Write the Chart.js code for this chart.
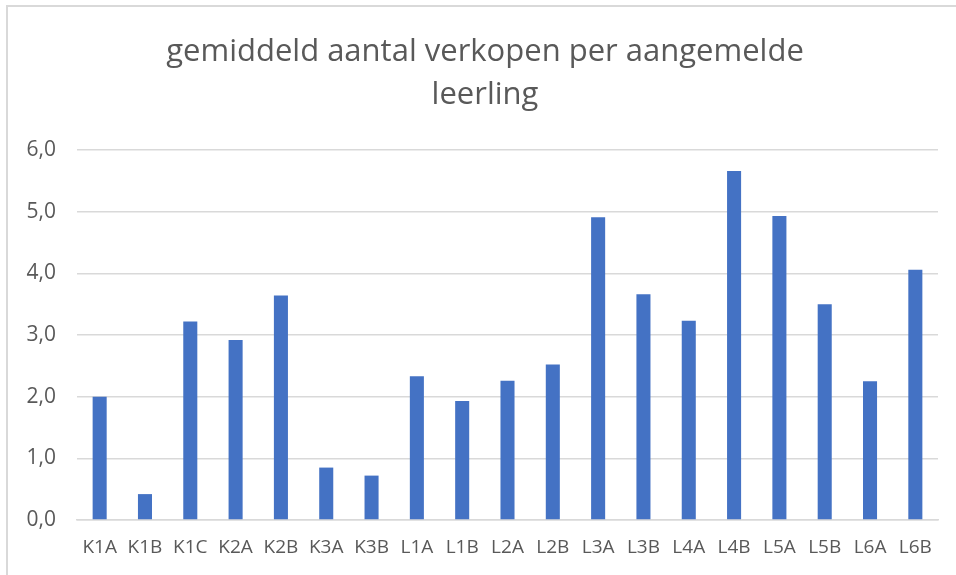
<!DOCTYPE html>
<html>
<head>
<meta charset="utf-8">
<script src="https://cdn.jsdelivr.net/npm/chart.js@4.4.0/dist/chart.umd.min.js"></script>
<style>
    html, body { margin: 0; padding: 0; background: #fff; }
    #wrap { position: relative; width: 956px; height: 575px; overflow: hidden; }
    #frame {
        position: absolute; left: 6px; top: 5px; right: -10px; bottom: -10px;
        border-left: 2px solid #d9d9d9; border-top: 2px solid #d9d9d9;
        pointer-events: none;
    }
    canvas { position: absolute; left: 0; top: 0; }
</style>
</head>
<body>
<div id="wrap">
    <canvas id="chart" width="956" height="575"></canvas>
    <div id="frame"></div>
</div>
<script>
// Data
const titleLines = ['gemiddeld aantal verkopen per aangemelde', 'leerling'];
const classes = ['K1A', 'K1B', 'K1C', 'K2A', 'K2B', 'K3A', 'K3B', 'L1A', 'L1B', 'L2A',
                 'L2B', 'L3A', 'L3B', 'L4A', 'L4B', 'L5A', 'L5B', 'L6A', 'L6B'];
const averageSales = [2.0, 0.42, 3.22, 2.92, 3.64, 0.85, 0.72, 2.33, 1.93, 2.26,
                      2.52, 4.91, 3.66, 3.23, 5.66, 4.93, 3.50, 2.25, 4.06];
const yTickLabels = ['0,0', '1,0', '2,0', '3,0', '4,0', '5,0', '6,0'];

const FONT = '"Open Sans", sans-serif';
const TEXT = '#595959';
const GRID = '#d9d9d9';
const TITLE_SIZE = 31;
const TITLE_LINE = 43;

Chart.defaults.font.family = FONT;
Chart.defaults.color = TEXT;

// The built-in title only reserves the space; this draws it centred on the
// original frame instead of on the canvas.
const centredTitle = {
    id: 'centredTitle',
    afterDraw(chart) {
        const c = chart.ctx;
        const block = chart.titleBlock;
        const top = block.top + block.options.padding.top;
        c.save();
        c.fillStyle = TEXT;
        c.font = `normal ${TITLE_SIZE}px ${FONT}`;
        c.textAlign = 'center';
        c.textBaseline = 'middle';
        titleLines.forEach((line, i) => {
            c.fillText(line, 485, top + TITLE_LINE * (i + 0.5));
        });
        c.restore();
    }
};

const ctx = document.getElementById('chart').getContext('2d');
new Chart(ctx, {
    type: 'bar',
    data: {
        labels: classes,
        datasets: [{
            data: averageSales,
            backgroundColor: '#4472C4',
            categoryPercentage: 1,
            barPercentage: 0.31
        }]
    },
    options: {
        responsive: false,
        animation: false,
        layout: { padding: { left: 0, right: 18, top: 0, bottom: 0 } },
        plugins: {
            legend: { display: false },
            tooltip: { enabled: false },
            title: {
                display: true,
                text: titleLines,
                color: 'rgba(0,0,0,0)',
                font: { size: TITLE_SIZE, weight: 'normal', lineHeight: TITLE_LINE / TITLE_SIZE },
                padding: { top: 31, bottom: 33 }
            }
        },
        scales: {
            x: {
                grid: { display: false, drawTicks: false },
                border: { color: GRID, width: 1.5 },
                ticks: { color: TEXT, font: { size: 19 }, padding: 16, maxRotation: 0, autoSkip: false },
                afterFit: scale => { scale.height = 55; }
            },
            y: {
                min: 0,
                max: 6,
                grid: { color: GRID, lineWidth: 1.5, drawTicks: false },
                border: { display: false },
                ticks: {
                    stepSize: 1,
                    color: TEXT,
                    font: { size: 21 },
                    padding: 21,
                    callback: (value, i) => yTickLabels[i]
                },
                afterFit: scale => { scale.width = 77; }
            }
        }
    },
    plugins: [centredTitle]
});
</script>
</body>
</html>
